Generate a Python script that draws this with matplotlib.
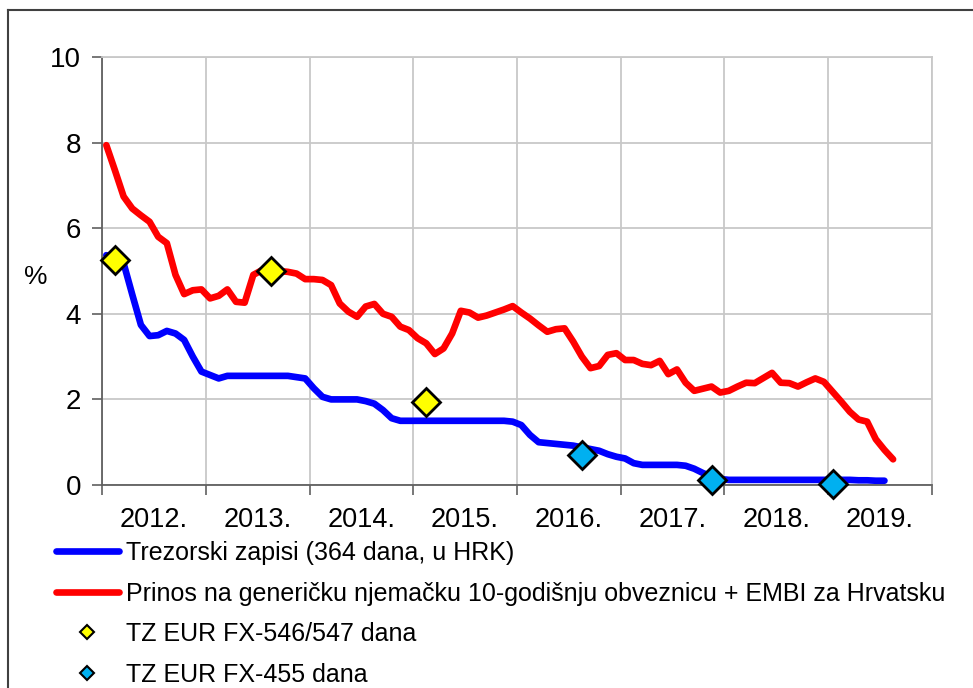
import matplotlib.pyplot as plt
from matplotlib.lines import Line2D

plt.rcParams['font.family'] = ['Liberation Sans', 'DejaVu Sans']

# monthly data, Jan 2012 - Aug 2019 (month index 0 = Jan 2012)
year_labels = ["2012.", "2013.", "2014.", "2015.", "2016.", "2017.", "2018.", "2019."]

trezorski = [
    5.37, 5.28, 5.18, 4.45, 3.74, 3.48, 3.50, 3.60, 3.54, 3.39, 3.00, 2.65,
    2.57, 2.49, 2.55, 2.55, 2.55, 2.55, 2.55, 2.55, 2.55, 2.55, 2.52, 2.49,
    2.26, 2.06, 2.00, 2.00, 2.00, 2.00, 1.96, 1.90, 1.75, 1.56, 1.50, 1.50,
    1.50, 1.50, 1.50, 1.50, 1.50, 1.50, 1.50, 1.50, 1.50, 1.50, 1.50, 1.48,
    1.40, 1.17, 1.00, 0.98, 0.96, 0.94, 0.92, 0.88, 0.84, 0.80, 0.72, 0.66,
    0.62, 0.51, 0.47, 0.47, 0.47, 0.47, 0.47, 0.45, 0.38, 0.28, 0.20, 0.14,
    0.12, 0.12, 0.12, 0.12, 0.12, 0.12, 0.12, 0.12, 0.12, 0.12, 0.12, 0.12,
    0.12, 0.12, 0.12, 0.11, 0.11, 0.10, 0.10,
]

prinos = [
    7.94, 7.35, 6.74, 6.46, 6.30, 6.15, 5.80, 5.65, 4.91, 4.46, 4.55, 4.57,
    4.36, 4.42, 4.57, 4.28, 4.26, 4.91, 5.02, 5.05, 5.00, 4.98, 4.94, 4.81,
    4.81, 4.79, 4.67, 4.24, 4.05, 3.93, 4.17, 4.23, 4.00, 3.93, 3.70, 3.62,
    3.43, 3.31, 3.06, 3.19, 3.54, 4.07, 4.03, 3.91, 3.96, 4.03, 4.10, 4.18,
    4.03, 3.89, 3.73, 3.58, 3.64, 3.66, 3.35, 3.00, 2.73, 2.78, 3.04, 3.08,
    2.92, 2.92, 2.83, 2.80, 2.90, 2.59, 2.70, 2.39, 2.20, 2.25, 2.30, 2.16,
    2.20, 2.30, 2.39, 2.38, 2.50, 2.62, 2.39, 2.38, 2.30, 2.40, 2.49, 2.41,
    2.18, 1.95, 1.71, 1.53, 1.48, 1.07, 0.82, 0.60,
]

fx546_months = [1, 19, 37]
fx546_values = [5.25, 5.00, 1.95]

fx455_months = [55, 70, 84]
fx455_values = [0.70, 0.12, 0.02]

labels = [
    "Trezorski zapisi (364 dana, u HRK)",
    "Prinos na generičku njemačku 10-godišnju obveznicu + EMBI za Hrvatsku",
    "TZ EUR FX-546/547 dana",
    "TZ EUR FX-455 dana",
]

fig = plt.figure(figsize=(9.73, 6.88), dpi=100)
ax = fig.add_axes([102 / 973, 203 / 688, 830 / 973, 428 / 688])

x_t = [i + 0.5 for i in range(len(trezorski))]
x_p = [i + 0.5 for i in range(len(prinos))]
ax.plot(x_t, trezorski, color="#0000ff", lw=4.8, solid_capstyle="round", zorder=3)
ax.plot(x_p, prinos, color="#ff0000", lw=4.8, solid_capstyle="round", zorder=3)
ax.plot([m + 0.5 for m in fx546_months], fx546_values, ls="none", marker="D",
        ms=14, mfc="#ffff00", mec="black", mew=2, zorder=4, clip_on=False)
ax.plot([m + 0.5 for m in fx455_months], fx455_values, ls="none", marker="D",
        ms=14, mfc="#00b0f0", mec="black", mew=2, zorder=4, clip_on=False)

ax.set_xlim(0, 96)
ax.set_ylim(0, 10)
ax.set_yticks([0, 2, 4, 6, 8, 10])
ax.set_xticks(range(0, 97, 12))
ax.set_xticklabels([])
ax.set_xticks([6 + 12 * k for k in range(len(year_labels))], minor=True)
ax.set_xticklabels(year_labels, minor=True)
ax.tick_params(axis="x", which="minor", length=0, labelsize=19.5, pad=16)
ax.tick_params(axis="x", which="major", length=7, width=1.2, color="#606060", direction="out")
ax.tick_params(axis="y", length=7, width=1.2, color="#606060", labelsize=20, pad=8)

ax.grid(True, which="major", color="#c8c8c8", lw=1.3)
ax.set_axisbelow(True)
for side in ("top", "right"):
    ax.spines[side].set_color("#c8c8c8")
    ax.spines[side].set_linewidth(1.3)
for side in ("left", "bottom"):
    ax.spines[side].set_color("#606060")
    ax.spines[side].set_linewidth(1.3)

fig.text(36 / 973, 1 - 277 / 688, "%", fontsize=19, ha="center", va="center")

# outer frame (left and top edges visible in the reference)
fig.add_artist(Line2D([8 / 973, 8 / 973], [0, 1 - 10 / 688], color="#404040", lw=1.5))
fig.add_artist(Line2D([8 / 973, 1], [1 - 10 / 688, 1 - 10 / 688], color="#404040", lw=1.5))

handles = [
    Line2D([], [], color="#0000ff", lw=4.8, solid_capstyle="round"),
    Line2D([], [], color="#ff0000", lw=4.8, solid_capstyle="round"),
    Line2D([], [], ls="none", marker="D", ms=7, mfc="#ffff00", mec="black", mew=1.5),
    Line2D([], [], ls="none", marker="D", ms=7, mfc="#00b0f0", mec="black", mew=1.5),
]
fig.legend(handles, labels, loc="upper left", bbox_to_anchor=(56 / 973, 1 - 541 / 688),
           frameon=False, fontsize=18, handlelength=2.5, handletextpad=0.28,
           labelspacing=0.66, borderaxespad=0, borderpad=0)

fig.savefig("out.png", dpi=100)
